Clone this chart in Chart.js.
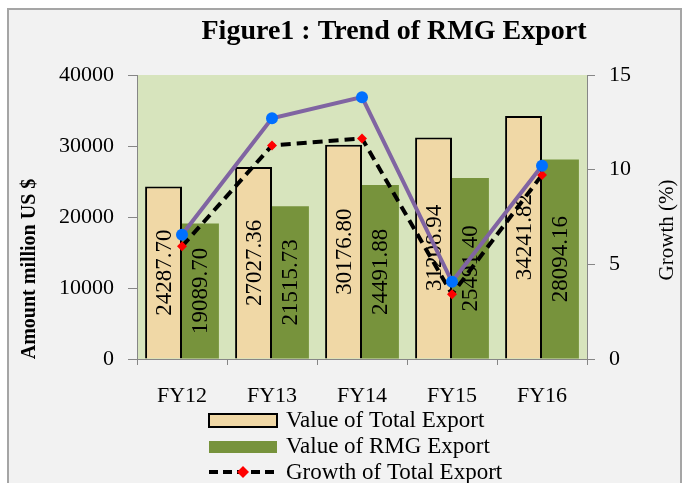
<!DOCTYPE html>
<html>
<head>
<meta charset="utf-8">
<script src="https://cdn.jsdelivr.net/npm/chart.js@4/dist/chart.umd.min.js"></script>
<style>
  body { margin: 0; background: #fff; overflow: hidden; }
  #frame { position: absolute; left: 7px; top: 8px; width: 671px; height: 500px; background: #f2f2f2; border: 2px solid #a5a5a5; }
  #wrap { position: absolute; left: 0; top: 0; width: 686px; height: 483px; }
</style>
</head>
<body>
<div id="frame"></div>
<div id="wrap"><canvas id="rmgChart" width="686" height="483"></canvas></div>
<script>
const years = ["FY12", "FY13", "FY14", "FY15", "FY16"];
const totalExport = [24287.70, 27027.36, 30176.80, 31208.94, 34241.82];
const rmgExport = [19089.70, 21515.73, 24491.88, 25491.40, 28094.16];
const totalGrowth = [5.95, 11.28, 11.65, 3.42, 9.72];
const rmgGrowth = [6.56, 12.71, 13.83, 4.08, 10.21];
const amountTicks = [0, 10000, 20000, 30000, 40000];
const growthTicks = [0, 5, 10, 15];

const SERIF = "'Liberation Serif', 'Times New Roman', serif";
const TAN = "#f0d8a6";
const OLIVE = "#77933c";
const AXIS = "#868686";

// light green plot background
const plotBg = {
  id: "plotBg",
  beforeDraw(chart) {
    const { ctx, chartArea: a } = chart;
    ctx.save();
    ctx.fillStyle = "#d7e4bd";
    ctx.fillRect(a.left, a.top, a.right - a.left, a.bottom - a.top);
    ctx.restore();
  },
};

// vertical value labels inside the bars (drawn before the lines)
const barLabels = {
  id: "barLabels",
  afterDatasetDraw(chart, args) {
    const ds = chart.data.datasets[args.index];
    if (ds.type === "line") return;
    const ctx = chart.ctx;
    ctx.save();
    ctx.font = "23px " + SERIF;
    ctx.fillStyle = "#000";
    ctx.textAlign = "center";
    ctx.textBaseline = "middle";
    args.meta.data.forEach((bar, i) => {
      const cy = (bar.y + bar.base) / 2;
      ctx.save();
      ctx.translate(bar.x, cy);
      ctx.rotate(-Math.PI / 2);
      ctx.fillText(ds.data[i].toFixed(2), 0, 1);
      ctx.restore();
    });
    ctx.restore();
  },
};

// title, axis titles and legend
const decor = {
  id: "decor",
  afterDraw(chart) {
    const ctx = chart.ctx;
    ctx.save();
    ctx.fillStyle = "#000";
    ctx.textAlign = "center";
    ctx.textBaseline = "middle";

    ctx.font = "bold 28px " + SERIF;
    ctx.fillText("Figure1 : Trend of RMG Export", 394, 32);

    ctx.font = "bold 20px " + SERIF;
    ctx.save();
    ctx.translate(30, 269);
    ctx.rotate(-Math.PI / 2);
    ctx.fillText("Amount million US $", 0, 0);
    ctx.restore();

    ctx.font = "21px " + SERIF;
    ctx.save();
    ctx.translate(667, 230);
    ctx.rotate(-Math.PI / 2);
    ctx.fillText("Growth (%)", 0, 0);
    ctx.restore();

    // legend
    ctx.textAlign = "left";
    ctx.font = "23px " + SERIF;
    ctx.fillStyle = TAN;
    ctx.fillRect(209, 414, 68, 13);
    ctx.strokeStyle = "#000";
    ctx.lineWidth = 2;
    ctx.strokeRect(209, 414, 68, 13);
    ctx.fillStyle = "#000";
    ctx.fillText("Value of Total Export", 286, 421);

    ctx.fillStyle = OLIVE;
    ctx.fillRect(209, 441, 68, 12);
    ctx.fillStyle = "#000";
    ctx.fillText("Value of RMG Export", 286, 447);

    ctx.lineWidth = 4;
    ctx.setLineDash([9, 5]);
    ctx.beginPath();
    ctx.moveTo(209, 472);
    ctx.lineTo(277, 472);
    ctx.stroke();
    ctx.setLineDash([]);
    ctx.fillStyle = "#ff0000";
    ctx.beginPath();
    ctx.moveTo(243, 466);
    ctx.lineTo(249, 472);
    ctx.lineTo(243, 478);
    ctx.lineTo(237, 472);
    ctx.closePath();
    ctx.fill();
    ctx.fillStyle = "#000";
    ctx.fillText("Growth of Total Export", 286, 473);
    ctx.restore();
  },
};

function init() {
  const ctx = document.getElementById("rmgChart").getContext("2d");
  const tickFont = { family: SERIF, size: 22 };
  new Chart(ctx, {
    type: "bar",
    data: {
      labels: years,
      datasets: [
        {
          type: "line",
          label: "Growth of Total Export",
          data: totalGrowth,
          yAxisID: "y1",
          borderColor: "#000",
          borderWidth: 4,
          borderDash: [10, 6],
          tension: 0,
          pointStyle: "rectRot",
          pointRadius: 5,
          pointBackgroundColor: "#ff0000",
          pointBorderWidth: 0,
          order: 1,
        },
        {
          type: "line",
          label: "Growth of RMG Export",
          data: rmgGrowth,
          yAxisID: "y1",
          borderColor: "#8064a2",
          borderWidth: 4,
          tension: 0,
          pointRadius: 6,
          pointBackgroundColor: "#0070ff",
          pointBorderWidth: 0,
          order: 0,
        },
        {
          label: "Value of Total Export",
          data: totalExport,
          backgroundColor: TAN,
          borderColor: "#000",
          borderWidth: 2,
          order: 2,
        },
        {
          label: "Value of RMG Export",
          data: rmgExport,
          backgroundColor: OLIVE,
          order: 2,
        },
      ],
    },
    options: {
      responsive: false,
      animation: false,
      categoryPercentage: 0.82,
      barPercentage: 1.0,
      layout: { padding: { top: 75, left: 0, right: 0, bottom: 0 } },
      plugins: {
        legend: { display: false },
        tooltip: { enabled: false },
      },
      scales: {
        x: {
          grid: { drawOnChartArea: false, tickLength: 6, color: AXIS, offset: true },
          border: { color: AXIS },
          ticks: { color: "#000", font: tickFont, padding: 18 },
          afterFit(s) { s.height = 124; },
        },
        y: {
          position: "left",
          min: amountTicks[0],
          max: amountTicks[amountTicks.length - 1],
          ticks: {
            stepSize: amountTicks[1] - amountTicks[0],
            color: "#000",
            font: tickFont,
            padding: 14,
            callback: (v) => String(v),
          },
          grid: { drawOnChartArea: false, tickLength: 9, color: AXIS },
          border: { color: AXIS },
          afterFit(s) { s.width = 137; },
        },
        y1: {
          position: "right",
          min: growthTicks[0],
          max: growthTicks[growthTicks.length - 1],
          ticks: { stepSize: growthTicks[1] - growthTicks[0], color: "#000", font: tickFont, padding: 14 },
          grid: { drawOnChartArea: false, tickLength: 8, color: AXIS },
          border: { color: AXIS },
          afterFit(s) { s.width = 99; },
        },
      },
    },
    plugins: [plotBg, barLabels, decor],
  });
}

document.addEventListener("DOMContentLoaded", init);
</script>
</body>
</html>
